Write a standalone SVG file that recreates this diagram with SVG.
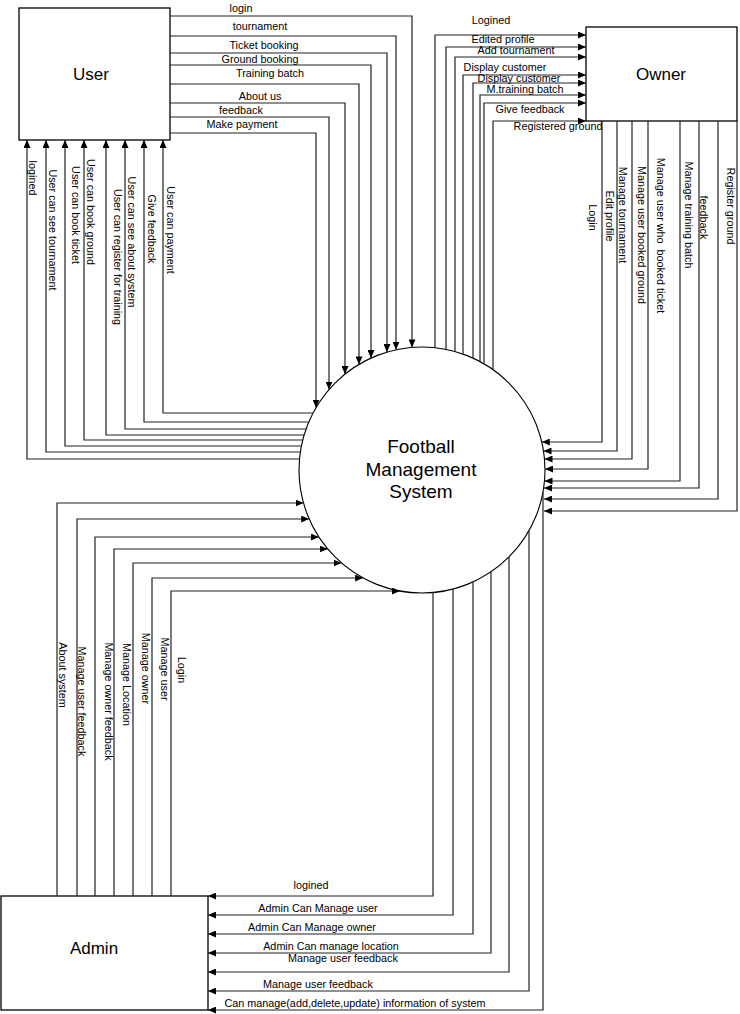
<svg xmlns="http://www.w3.org/2000/svg" width="740" height="1014" viewBox="0 0 740 1014">
<style>
.box{fill:#fff;stroke:#000;stroke-width:1.3}
.c{fill:none;stroke:#222;stroke-width:1.2;marker-end:url(#ah)}
.t{font-family:"Liberation Sans",Arial,sans-serif;font-size:10.8px;fill:#000;text-anchor:middle}
.n{font-family:"Liberation Sans",Arial,sans-serif;font-size:17px;fill:#000;text-anchor:middle}
.s{font-family:"Liberation Sans",Arial,sans-serif;font-size:19px;fill:#000;text-anchor:middle}
</style>
<defs>
<marker id="ah" markerWidth="8" markerHeight="7" refX="8" refY="3.5" orient="auto" markerUnits="userSpaceOnUse">
<path d="M0,0 L8,3.5 L0,7 z" fill="#000"/>
</marker>
</defs>
<rect width="740" height="1014" fill="#fff"/>
<g id="user"><rect class="box" x="19" y="8" width="151" height="132"/><text class="n" x="91" y="80">User</text></g>
<g id="owner"><rect class="box" x="586" y="27" width="151" height="94"/><text class="n" x="661" y="80">Owner</text></g>
<g id="admin"><rect class="box" x="1" y="896" width="207" height="114"/><text class="n" x="94" y="954">Admin</text></g>
<g id="system"><circle cx="422" cy="470" r="123" fill="#fff" stroke="#000" stroke-width="1.1"/>
<text class="s" x="421" y="453">Football</text><text class="s" x="421" y="475.5">Management</text><text class="s" x="421" y="498">System</text></g>
<g id="connectors">
<path class="c" d="M170,16 H412 V347.4"/>
<path class="c" d="M170,36 H396 V349.8"/>
<path class="c" d="M170,53 H387 V352.1"/>
<path class="c" d="M170,65 H371 V358.1"/>
<path class="c" d="M170,84 H359 V364.4"/>
<path class="c" d="M170,103 H345 V374.1"/>
<path class="c" d="M170,117 H329 V389.5"/>
<path class="c" d="M170,133 H316 V407.6"/>
<path class="c" d="M299.5,459 H27 V140"/>
<path class="c" d="M300.3,452 H46 V140"/>
<path class="c" d="M301.4,446 H65 V140"/>
<path class="c" d="M302.7,440 H84 V140"/>
<path class="c" d="M304.1,435 H106 V140"/>
<path class="c" d="M306,429 H125 V140"/>
<path class="c" d="M308.8,422 H144 V140"/>
<path class="c" d="M313,413 H163 V140"/>
<path class="c" d="M435,347.7 V35 H586"/>
<path class="c" d="M446,349.4 V47 H586"/>
<path class="c" d="M455,351.5 V57 H586"/>
<path class="c" d="M463,354 V75 H586"/>
<path class="c" d="M473,358.1 V83 H586"/>
<path class="c" d="M480,361.5 V95 H586"/>
<path class="c" d="M484,363.8 V103 H586"/>
<path class="c" d="M493,369.6 V121 H586"/>
<path class="c" d="M602,121 V442 H541.8"/>
<path class="c" d="M617,121 V451 H543.5"/>
<path class="c" d="M632,121 V459 H544.5"/>
<path class="c" d="M648,121 V469 H545"/>
<path class="c" d="M680,121 V481 H544.5"/>
<path class="c" d="M699,121 V488 H544"/>
<path class="c" d="M718,121 V499 H544"/>
<path class="c" d="M737,121 V511 H544"/>
<path class="c" d="M57,896 V503 H303.5"/>
<path class="c" d="M77,896 V519 H309.2"/>
<path class="c" d="M95,896 V537 H318.8"/>
<path class="c" d="M114,896 V549 H327.7"/>
<path class="c" d="M133,896 V563 H341.5"/>
<path class="c" d="M152,896 V578 H363.1"/>
<path class="c" d="M171,896 V591 H399.9"/>
<path class="c" d="M433,592.5 V896 H208"/>
<path class="c" d="M453,589 V915 H208"/>
<path class="c" d="M473,581.9 V934 H208"/>
<path class="c" d="M491,571.8 V953 H208"/>
<path class="c" d="M509,556.9 V972 H208"/>
<path class="c" d="M529,530.7 V991 H208"/>
<path class="c" d="M543,492.1 V1010 H208"/>
</g>
<g id="labels">
<text class="t" x="241" y="12">login</text>
<text class="t" x="260" y="30">tournament</text>
<text class="t" x="264" y="49">Ticket booking</text>
<text class="t" x="260" y="63">Ground booking</text>
<text class="t" x="270" y="77">Training batch</text>
<text class="t" x="260" y="100">About us</text>
<text class="t" x="241" y="114">feedback</text>
<text class="t" x="242" y="128">Make payment</text>
<text class="t" transform="translate(28.5,178) rotate(90)">logined</text>
<text class="t" transform="translate(48.5,230) rotate(90)">User can see tournament</text>
<text class="t" transform="translate(71.5,215) rotate(90)">User can book ticket</text>
<text class="t" transform="translate(86.5,212) rotate(90)">User can book ground</text>
<text class="t" transform="translate(113.5,257) rotate(90)">User can register for training</text>
<text class="t" transform="translate(127.5,242) rotate(90)">User can see about system</text>
<text class="t" transform="translate(147.5,229) rotate(90)">Give feedback</text>
<text class="t" transform="translate(166.5,230) rotate(90)">User can payment</text>
<text class="t" x="491" y="24">Logined</text>
<text class="t" x="503" y="43">Edited profile</text>
<text class="t" x="516" y="54">Add tournament</text>
<text class="t" x="505" y="71">Display customer</text>
<text class="t" x="519" y="82">Display customer</text>
<text class="t" x="525" y="92.5">M.training batch</text>
<text class="t" x="530" y="113">Give feedback</text>
<text class="t" x="558" y="130">Registered ground</text>
<text class="t" transform="translate(588.5,217.5) rotate(90)">Login</text>
<text class="t" transform="translate(605.5,216) rotate(90)">Edit profile</text>
<text class="t" transform="translate(618.5,215) rotate(90)">Manage tournament</text>
<text class="t" transform="translate(637.5,235) rotate(90)">Manage user booked ground</text>
<text class="t" transform="translate(656.5,235.5) rotate(90)" xml:space="preserve">Manage user who  booked ticket</text>
<text class="t" transform="translate(684.5,215) rotate(90)">Manage training batch</text>
<text class="t" transform="translate(699.5,217.5) rotate(90)">feedback</text>
<text class="t" transform="translate(726.5,206) rotate(90)">Register ground</text>
<text class="t" transform="translate(58.5,675) rotate(90)">About system</text>
<text class="t" transform="translate(77.5,701.5) rotate(90)">Manage user feedback</text>
<text class="t" transform="translate(104.5,701.5) rotate(90)">Manage owner feedback</text>
<text class="t" transform="translate(122.5,684.5) rotate(90)">Manage Location</text>
<text class="t" transform="translate(141.5,668.5) rotate(90)">Manage owner</text>
<text class="t" transform="translate(160.5,669) rotate(90)">Manage user</text>
<text class="t" transform="translate(177.5,670) rotate(90)">Login</text>
<text class="t" x="311" y="889">logined</text>
<text class="t" x="318" y="912">Admin Can Manage user</text>
<text class="t" x="312" y="931">Admin Can Manage owner</text>
<text class="t" x="331" y="950">Admin Can manage location</text>
<text class="t" x="343" y="961.5">Manage user feedback</text>
<text class="t" x="318" y="988">Manage user feedback</text>
<text class="t" x="355" y="1007">Can manage(add,delete,update) information of system</text>
</g>
</svg>
